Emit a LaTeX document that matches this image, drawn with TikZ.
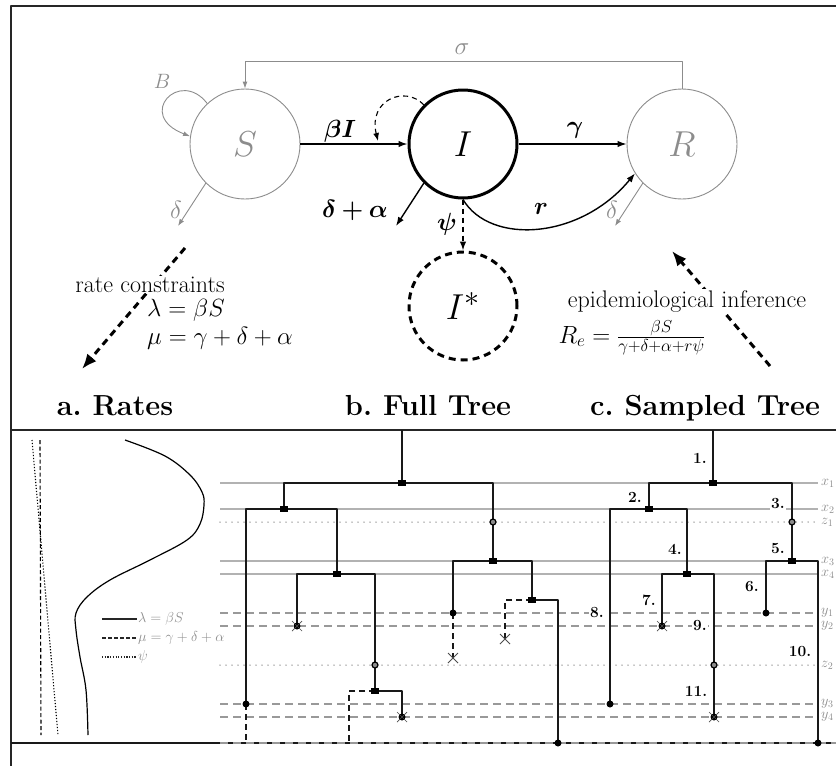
\documentclass[tikz,border=0pt]{standalone}
\usepackage{graphicx}
\usepackage{bm}
\usetikzlibrary{arrows.meta,calc}
\newcommand{\fsmain}{\fontsize{24}{28}\selectfont}
\newcommand{\fshead}{\fontsize{29}{34}\selectfont\bfseries}
\newcommand{\fsnode}{\fontsize{24.88}{28}\selectfont}
\newcommand{\biglet}[1]{\scalebox{1.45}{#1}}
\newcommand{\fsgray}{\fontsize{24.88}{28}\selectfont}
\newcommand{\fsgrayb}{\fontsize{20.74}{24}\selectfont}
\newcommand{\fstree}{\fontsize{15.5}{17}\selectfont\bfseries}
\newcommand{\fsleg}{\fontsize{14}{16}\selectfont}
\newcommand{\fsaxis}{\fontsize{14.4}{16}\selectfont}
\begin{document}
\begin{tikzpicture}[x=1pt,y=-1pt,line join=round,
  frameline/.style={line width=2pt,black!85},
  gcirc/.style={circle,draw=black!45,line width=0.9pt,minimum size=110pt,inner sep=0pt,text=black!45,font=\fsnode},
  icirc/.style={circle,draw=black,line width=3pt,minimum size=108pt,inner sep=0pt,font=\fsnode},
  iscirc/.style={circle,draw=black,line width=3pt,dash pattern=on 7pt off 5pt,minimum size=108pt,inner sep=0pt,font=\fsnode},
  barr/.style={black,line width=1.4pt,-{Latex[length=9pt,width=6.5pt]}},
  garr/.style={black!45,line width=0.9pt,-{Latex[length=7pt,width=5pt]}},
  bigarr/.style={black,line width=3pt,dash pattern=on 7pt off 5pt,-{Latex[length=15pt,width=12pt]}},
  lbl/.style={font=\fsmain},
  glbl/.style={font=\fsgray,text=black!45},
  txt/.style={font=\fsmain,fill=white,inner sep=1pt},
  head/.style={font=\fshead,anchor=base},
  gsol/.style={black!30,line width=1.3pt},
  gdsh/.style={black!40,line width=1.5pt,dash pattern=on 8pt off 5pt},
  gdot/.style={black!45,line width=1.5pt,line cap=round,dash pattern=on 0pt off 6pt},
  br/.style={black!90,line width=2.4pt},
  ubr/.style={black!90,line width=2.2pt,dash pattern=on 6pt off 4pt},
  sqm/.style={fill=black,minimum width=8pt,minimum height=6pt,inner sep=0pt,rectangle},
  dotm/.style={fill=black,circle,minimum size=7pt,inner sep=0pt},
  zm/.style={draw=black,fill=black!45,line width=1.2pt,circle,minimum size=6pt,inner sep=0pt},
  tl/.style={font=\fstree,fill=white,inner sep=1pt},
  al/.style={font=\fsaxis,text=black!45,anchor=west,inner sep=0pt,xshift=3pt},
  leg/.style={font=\fsleg,text=black!45,anchor=west,inner sep=1pt}
]
\useasboundingbox (0,0) rectangle (836,766);

% ---------- frame ----------
\coordinate (ftl) at (11,6);
\coordinate (ftr) at (840,6);
\coordinate (fbl) at (11,770);
\draw[frameline] (ftr) -- (ftl) -- (fbl);
\coordinate (pl) at (11,430);
\coordinate (pr) at (840,430);
\draw[frameline] (pl) -- (pr);

% ---------- compartment model ----------
\node[gcirc] (S) at (245,144) {\biglet{$S$}};
\node[icirc] (I) at (463,144) {\biglet{$I$}};
\node[gcirc] (R) at (682,144) {\biglet{$R$}};
\node[iscirc] (Is) at (463,306) {\biglet{$I^{*}$}};

\draw[barr] (S) -- (I);
\node[lbl] (lbI) at (340,131) {$\bm{\beta I}$};
\draw[barr] (I) -- (R);
\node[lbl] (lgam) at (575,130) {$\bm{\gamma}$};
\draw[barr] (I.-90) .. controls (490,245) and (580,240) .. (R.-148);
\node[lbl] (lr) at (541,209) {$\bm{r}$};
\coordinate (Ida) at (396,226);
\draw[barr] (I.-135) -- (Ida);
\node[lbl] (lda) at (355,210) {$\bm{\delta+\alpha}$};
\draw[black,line width=1.4pt,dash pattern=on 5pt off 4pt,-{Latex[length=9pt,width=6.5pt]}] (I.-90) -- (Is.north);
\node[lbl] (lpsi) at (447,224) {$\bm{\psi}$};
\coordinate (loopend) at (378,141);
\draw[black,line width=1.1pt,dash pattern=on 5pt off 4pt,-{Latex[length=8pt,width=6pt]}] (I.135) .. controls (405,85) and (368,100) .. (loopend);

% gray flows
\draw[garr] (R.north) -- ++(0,-27) -| (S.north);
\node[glbl] (lsig) at (462,49) {$\sigma$};
\draw[garr] (S.133) .. controls (180,68) and (135,115) .. (S.172);
\node[glbl,font=\fsgrayb] (lB) at (162,81) {$B$};
\coordinate (Sd) at (178,226);
\draw[garr] (S.-135) -- (Sd);
\node[glbl] (lSd) at (176,210) {$\delta$};
\coordinate (Rd) at (615,226);
\draw[garr] (R.-135) -- (Rd);
\node[glbl] (lRd) at (612,210) {$\delta$};

% big dashed arrows
\coordinate (a1s) at (185,248);
\coordinate (a1e) at (82,369);
\draw[bigarr] (a1s) -- (a1e);
\node[txt,anchor=base] (rc) at (150,292) {rate constraints};
\node[font=\fsmain,anchor=base west,inner sep=0pt] (lam) at (147,316) {$\lambda=\beta S$};
\node[font=\fsmain,anchor=base west,inner sep=0pt] (mu) at (147,344) {$\mu=\gamma+\delta+\alpha$};

\coordinate (a2s) at (770,366);
\coordinate (a2e) at (672,251);
\draw[bigarr] (a2s) -- (a2e);
\node[txt,anchor=base] (ei) at (687,307) {epidemiological inference};
\node[font=\fsmain,anchor=base,inner sep=0pt] (Re) at (632,343) {$R_e=\frac{\beta S}{\gamma+\delta+\alpha+r\psi}$};

% headings
\node[head] (ha) at (115,415) {a.~Rates};
\node[head] (hb) at (428,415) {b.~Full Tree};
\node[head] (hc) at (705,415) {c.~Sampled Tree};

% ---------- rates panel ----------
\coordinate (mu1) at (40,440);
\coordinate (mu2) at (41,735);
\draw[black,line width=1.1pt,dash pattern=on 4pt off 2.5pt] (mu1) -- (mu2);
\coordinate (ps1) at (32,440);
\coordinate (ps2) at (58,735);
\draw[black,line width=1.1pt,dash pattern=on 1.2pt off 1.8pt] (ps1) -- (ps2);
\draw[black,line width=1.2pt] plot[smooth,tension=0.6] coordinates {(125,440) (165,456) (190,475) (202,492) (204,505) (200,524) (187,540) (150,560) (110,580) (87,597) (76,613) (76,630) (80,657) (86,690) (88,735)};
% legend
\coordinate (l1a) at (102,619); \coordinate (l1b) at (137,619);
\coordinate (l2a) at (102,638); \coordinate (l2b) at (137,638);
\coordinate (l3a) at (102,657); \coordinate (l3b) at (137,657);
\draw[black!85,line width=1.2pt] (l1a) -- (l1b);
\draw[black!85,line width=1.2pt,dash pattern=on 4pt off 2pt] (l2a) -- (l2b);
\draw[black!85,line width=1.2pt,dash pattern=on 1.2pt off 1.5pt] (l3a) -- (l3b);
\node[leg] (lg1) at (l1b) {$\lambda=\beta S$};
\node[leg] (lg2) at (l2b) {$\mu=\gamma+\delta+\alpha$};
\node[leg] (lg3) at (l3b) {$\psi$};

% ---------- horizontal time lines ----------
\foreach \yy/\nm/\st in {483/x_1/gsol,509/x_2/gsol,522/z_1/gdot,561/x_3/gsol,574/x_4/gsol,613/y_1/gdsh,626/y_2/gdsh,665/z_2/gdot,704/y_3/gdsh,717/y_4/gdsh}{
  \coordinate (hl\yy) at (220,\yy);
  \coordinate (hr\yy) at (818,\yy);
  \draw[\st] (hl\yy) -- (hr\yy);
  \node[al] (ax\yy) at (hr\yy) {$\nm$};
}
\coordinate (bl) at (11,743);
\coordinate (br) at (840,743);
\draw[black!90,line width=2.6pt] (bl) -- (br);
\coordinate (bg) at (220,743);
\draw[black!40,line width=1.3pt,dash pattern=on 8pt off 5pt] (bg) -- (br);

% ---------- full tree ----------
\coordinate (fr) at (402,430); \coordinate (f1) at (402,483);
\coordinate (f1L) at (284,483); \coordinate (f1R) at (493,483);
\coordinate (f2) at (284,509); \coordinate (f2L) at (246,509); \coordinate (f2R) at (337,509);
\coordinate (f8) at (246,704); \coordinate (f8b) at (246,743);
\coordinate (f4) at (337,574); \coordinate (f4L) at (297,574); \coordinate (f4R) at (375,574);
\coordinate (f7) at (297,626);
\coordinate (fz2) at (375,665); \coordinate (f11s) at (375,691);
\coordinate (f11a) at (402,691); \coordinate (f11) at (402,717);
\coordinate (f11d) at (349,691); \coordinate (f11e) at (349,743);
\coordinate (fz1) at (493,522); \coordinate (f5) at (493,561);
\coordinate (f5L) at (453,561); \coordinate (f5R) at (532,561);
\coordinate (f6) at (453,613); \coordinate (f6x) at (453,658);
\coordinate (f10s) at (532,600); \coordinate (f10a) at (558,600); \coordinate (f10) at (558,743);
\coordinate (f10d) at (505,600); \coordinate (f10x) at (505,639);

\draw[br] (fr) -- (f1);
\draw[br] (f2) -- (f1L) -- (f1R) -- (f5);
\draw[br] (f8) -- (f2L) -- (f2R) -- (f4);
\draw[br] (f7) -- (f4L) -- (f4R) -- (f11s) -- (f11a) -- (f11);
\draw[ubr] (f8) -- (f8b);
\draw[ubr] (f11s) -- (f11d) -- (f11e);
\draw[br] (f6) -- (f5L) -- (f5R) -- (f10s) -- (f10a) -- (f10);
\draw[ubr] (f6) -- (f6x);
\draw[ubr] (f10s) -- (f10d) -- (f10x);

% ---------- sampled tree ----------
\coordinate (sr) at (713,430); \coordinate (s1) at (713,483);
\coordinate (s1L) at (649,483); \coordinate (s1R) at (792,483);
\coordinate (s2) at (649,509); \coordinate (s2L) at (610,509); \coordinate (s2R) at (687,509);
\coordinate (s8) at (610,704);
\coordinate (s4) at (687,574); \coordinate (s4L) at (662,574); \coordinate (s4R) at (714,574);
\coordinate (s7) at (662,626);
\coordinate (sz2) at (714,665); \coordinate (s11) at (714,717);
\coordinate (sz1) at (792,522); \coordinate (s5) at (792,561);
\coordinate (s5L) at (766,561); \coordinate (s5R) at (818,561);
\coordinate (s6) at (766,613);
\coordinate (s10) at (818,743);

\draw[br] (sr) -- (s1);
\draw[br] (s2) -- (s1L) -- (s1R) -- (s5);
\draw[br] (s8) -- (s2L) -- (s2R) -- (s4);
\draw[br] (s7) -- (s4L) -- (s4R) -- (s11);
\draw[br] (s6) -- (s5L) -- (s5R) -- (s10);

% ---------- markers ----------
\foreach \p in {f1,f2,f4,f5,f11s,f10s,s1,s2,s4,s5}{\node[sqm] at (\p) {};}
\foreach \p in {f8,f6,f10,s8,s6,s10}{\node[dotm] at (\p) {};}
\foreach \p in {fz1,fz2,sz1,sz2}{\node[zm] at (\p) {};}
\foreach \p in {f7,f11,s7,s11}{
  \node[dotm] at (\p) {};
  \draw[black!70,line width=0.7pt] ($(\p)+(-5,-5)$) -- ($(\p)+(5,5)$) ($(\p)+(-5,5)$) -- ($(\p)+(5,-5)$);
}
\foreach \p in {f6x,f10x}{
  \draw[black!70,line width=0.8pt] ($(\p)+(-5,-5)$) -- ($(\p)+(5,5)$) ($(\p)+(-5,5)$) -- ($(\p)+(5,-5)$);
}

% ---------- sampled tree labels ----------
\node[tl] (t1) at (700,458) {1.};
\node[tl] (t2) at (635,497) {2.};
\node[tl] (t3) at (778,504) {3.};
\node[tl] (t4) at (675,549) {4.};
\node[tl] (t5) at (778,549) {5.};
\node[tl] (t6) at (752,587) {6.};
\node[tl] (t7) at (649,600) {7.};
\node[tl] (t8) at (597,613) {8.};
\node[tl] (t9) at (700,626) {9.};
\node[tl] (t10) at (800,652) {10.};
\node[tl] (t11) at (696,691) {11.};
\end{tikzpicture}
\end{document}
